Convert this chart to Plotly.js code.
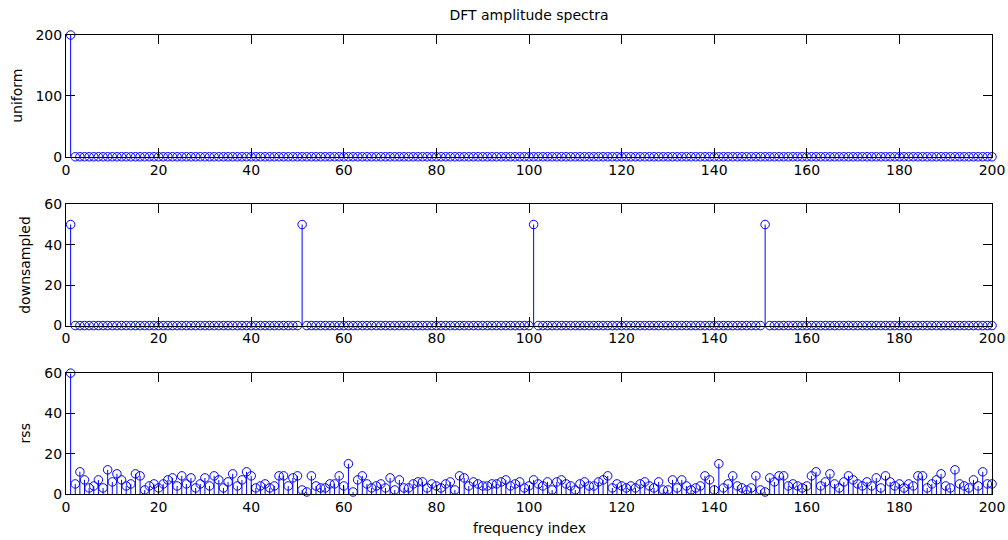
<!DOCTYPE html>
<html><head><meta charset="utf-8">
<script src="https://cdn.plot.ly/plotly-3.0.1.min.js"></script>
<style>html,body{margin:0;padding:0;background:#fff}#c{width:1008px;height:540px}</style>
</head><body><div id="c"></div>
<script>
// frequency index count
var N = 200;
// uniform: single spike, rest zero
var uniformSpikeIdx = [1];
var uniformSpikeVal = [200];
// downsampled: spikes every 50
var downSpikeIdx = [1, 51, 101, 151];
var downSpikeVal = [50, 50, 50, 50];
// rss amplitude spectrum
var rss = [60, 5, 11, 7, 3, 4, 7, 3, 12, 6, 10, 7, 4, 5, 10, 9, 2, 4, 5, 3,
 5, 7, 8, 4, 9, 5, 8, 3, 5, 8, 4, 9, 7, 3, 6, 10, 4, 7, 11, 9,
 3, 4, 5, 3, 4, 9, 9, 4, 8, 9, 2, 1, 9, 4, 3, 3, 5, 5, 9, 4,
 15, 1, 7, 9, 5, 3, 4, 5, 3, 8, 2, 7, 3, 3, 5, 6, 6, 3, 5, 4,
 3, 5, 6, 2, 9, 8, 4, 6, 5, 4, 4, 5, 5, 6, 7, 4, 5, 6, 3, 4,
 7, 5, 4, 6, 2, 6, 7, 5, 4, 2, 5, 6, 4, 4, 6, 7, 9, 3, 5, 4,
 3, 4, 3, 5, 6, 4, 3, 6, 2, 2, 7, 3, 7, 4, 2, 3, 4, 9, 7, 2,
 15, 3, 5, 9, 4, 3, 2, 3, 9, 2, 1, 8, 6, 9, 9, 4, 5, 4, 3, 4,
 9, 11, 4, 6, 10, 5, 3, 6, 9, 7, 5, 4, 6, 4, 8, 3, 9, 6, 4, 5,
 3, 5, 4, 9, 9, 3, 5, 7, 10, 4, 3, 12, 5, 4, 3, 7, 4, 11, 5, 5];
var xTicks = [0, 20, 40, 60, 80, 100, 120, 140, 160, 180, 200];
var yTicksTop = [0, 100, 200];
var yTicksMid = [0, 20, 40, 60];
var yTicksBot = [0, 20, 40, 60];
var labels = {title: 'DFT amplitude spectra', y1: 'uniform', y2: 'downsampled', y3: 'rss', x: 'frequency index'};

var idx = [];
for (var i = 1; i <= N; i++) idx.push(i);
function spikes(ix, vals) {
  var a = new Array(N).fill(0);
  ix.forEach(function (k, j) { a[k - 1] = vals[j]; });
  return a;
}
var uniform = spikes(uniformSpikeIdx, uniformSpikeVal);
var down = spikes(downSpikeIdx, downSpikeVal);
var zeros = new Array(N).fill(0);

var blue = '#0000ff';
function stem(y, xa, ya) {
  return {
    x: idx, y: y, xaxis: xa, yaxis: ya, type: 'scatter', mode: 'markers',
    cliponaxis: false, hoverinfo: 'skip', showlegend: false,
    marker: {symbol: 'circle-open', size: 8.5, color: blue, line: {width: 1, color: blue}},
    error_y: {type: 'data', symmetric: false, array: zeros, arrayminus: y, width: 0, thickness: 1, color: blue}
  };
}
var font = {family: 'DejaVu Sans, sans-serif', size: 14, color: '#000'};
function xax(anchor) {
  return {anchor: anchor, range: [0, 200], tickvals: xTicks, ticktext: xTicks.map(String),
    ticks: 'inside', ticklen: 9, tickwidth: 1, tickcolor: '#000', mirror: 'allticks',
    showline: true, linecolor: '#000', linewidth: 1, showgrid: false, zeroline: false,
    tickfont: font, fixedrange: true};
}
function yax(anchor, dom, rng, tv) {
  return {anchor: anchor, domain: dom, range: rng, tickvals: tv, ticktext: tv.map(String),
    ticks: 'inside', ticklen: 9, tickwidth: 1, tickcolor: '#000', mirror: 'allticks',
    showline: true, linecolor: '#000', linewidth: 1, showgrid: false, zeroline: false,
    tickfont: font, fixedrange: true};
}
var H = 459.5;
var layout = {
  width: 1008, height: 540, paper_bgcolor: '#fff', plot_bgcolor: '#fff',
  margin: {l: 65.7, r: 15.7, t: 34.8, b: 45.7, pad: 0},
  font: font,
  title: {text: labels.title, font: font, x: 0.5, xref: 'paper', y: 1 - 15 / 540, yref: 'container', yanchor: 'middle'},
  xaxis: xax('y'), xaxis2: xax('y2'), xaxis3: xax('y3'),
  yaxis: yax('x', [(494.3 - 156.7) / H, 1], [0, 200], yTicksTop),
  yaxis2: yax('x2', [(494.3 - 325.7) / H, (494.3 - 204.3) / H], [0, 60], yTicksMid),
  yaxis3: yax('x3', [0, (494.3 - 373.3) / H], [0, 60], yTicksBot),
  annotations: [
    {text: labels.y1, xref: 'paper', yref: 'paper', x: (16.7 - 65.7) / 926.6, y: ((494.3 - 95.7) / H), textangle: -90, showarrow: false, font: font, xanchor: 'center', yanchor: 'middle'},
    {text: labels.y2, xref: 'paper', yref: 'paper', x: (24.5 - 65.7) / 926.6, y: ((494.3 - 265) / H), textangle: -90, showarrow: false, font: font, xanchor: 'center', yanchor: 'middle'},
    {text: labels.y3, xref: 'paper', yref: 'paper', x: (24.5 - 65.7) / 926.6, y: ((494.3 - 433.8) / H), textangle: -90, showarrow: false, font: font, xanchor: 'center', yanchor: 'middle'},
    {text: labels.x, xref: 'paper', yref: 'paper', x: 0.5, y: -(528 - 494.3) / H, showarrow: false, font: font, xanchor: 'center', yanchor: 'middle'}
  ]
};
Plotly.newPlot('c', [stem(uniform, 'x', 'y'), stem(down, 'x2', 'y2'), stem(rss, 'x3', 'y3')], layout, {staticPlot: true, displayModeBar: false});
</script></body></html>
